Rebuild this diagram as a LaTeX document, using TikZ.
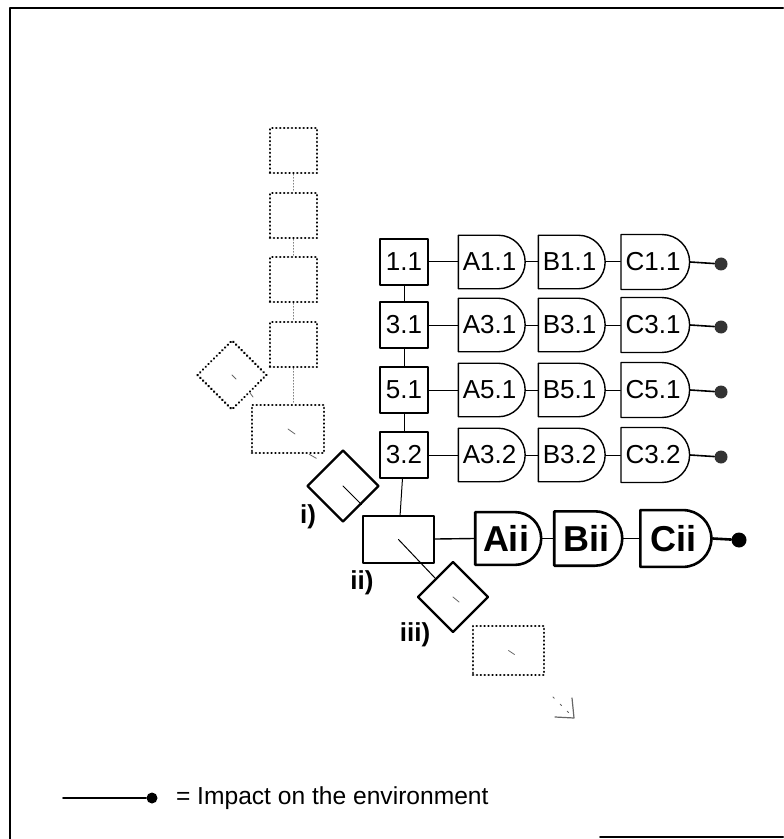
\documentclass[tikz,border=0pt]{standalone}
\usepackage{fontspec}
\setmainfont{Liberation Sans}
\usetikzlibrary{shapes.geometric,shapes.gates.logic.US,arrows.meta}

\begin{document}
\begin{tikzpicture}[
    x=0.5pt, y=-0.5pt,      % one unit = one pixel of the sketch
    font=\fontsize{13}{15}\selectfont,
    line cap=round,
    line join=round,
    >={Straight Barb[open]}, % arrow tip style
    box/.style={draw, line width=0.7pt, inner sep=0pt,
                minimum width=24pt, minimum height=23pt},
    gate/.style={and gate US, draw, line width=0.7pt, inner sep=0pt,
                 minimum height=23pt},
    bigbox/.style={draw, line width=1.2pt, inner sep=0pt,
                   minimum width=35.5pt, minimum height=23.5pt},
    biggate/.style={and gate US, draw, line width=1.3pt, inner sep=0pt,
                    minimum height=23.5pt, font=\fontsize{18}{20}\selectfont\bfseries},
    choice/.style={diamond, draw, line width=1.2pt, inner sep=0pt, aspect=1},
    ghost/.style={draw, line width=1.3pt, dash pattern=on 0.05pt off 1.9pt, inner sep=0pt},
    ghostlink/.style={line width=0.4pt, gray, dash pattern=on 0.5pt off 1pt},
    link/.style={line width=0.5pt},
    impact/.style={circle, fill=black!80, inner sep=0pt, minimum size=6.5pt},
    trace/.style={line width=0.4pt, black!60},
    tag/.style={font=\fontsize{13}{15}\selectfont\bfseries}
]
\useasboundingbox (0,0) rectangle (783,839);

%-----------------------
% 0) FRAME
%-----------------------
\draw[line width=1pt] (783,8) -- (10,8) -- (10,839);
\draw[line width=1pt] (600,837) -- (783,837);

%-----------------------
% 1) DOTTED (PAST) STEPS
%-----------------------
\node[ghost, minimum width=23.5pt, minimum height=22.5pt] (ds1) at (293.5,150.5) {};
\node[ghost, minimum width=23.5pt, minimum height=22.5pt] (ds2) at (293.5,215.5) {};
\node[ghost, minimum width=23.5pt, minimum height=22.5pt] (ds3) at (293.5,279.5) {};
\node[ghost, minimum width=23.5pt, minimum height=22.5pt] (ds4) at (293.5,344.5) {};
\node[ghost, minimum width=36pt, minimum height=24pt] (dr) at (288,429) {};
\node[ghost, diamond, aspect=1, minimum size=35pt] (dd) at (232,375) {};

\draw[ghostlink] (ds1) -- (ds2);
\draw[ghostlink] (ds2) -- (ds3);
\draw[ghostlink] (ds3) -- (ds4);
\draw[ghostlink] (ds4.south) -- (ds4.south |- dr.north);

%-----------------------
% 2) MAIN ROWS
%-----------------------
\foreach \id/\row/\ypos in {r1/1.1/262, r2/3.1/325, r3/5.1/390, r4/3.2/455} {
  \node[box] (s\id) at (404,\ypos) {\row};
  \node[gate, minimum width=28pt] (A\id) at (489.5,\ypos) {A\row};
  \node[gate, minimum width=30pt] (B\id) at (569.5,\ypos) {B\row};
  \node[gate, minimum width=32pt] (C\id) at (653,\ypos) {C\row};
  \node[impact] (e\id) at (721,\ypos+2) {};
  \draw[link] (s\id) -- (A\id.west);
  \draw[link] (A\id.east) -- (B\id.west);
  \draw[link] (B\id.east) -- (C\id.west);
  \draw[line width=0.8pt] (C\id.east) -- (e\id);
}
\draw[link] (sr1) -- (sr2);
\draw[link] (sr2) -- (sr3);
\draw[link] (sr3) -- (sr4);

%-----------------------
% 3) CURRENT STEP ii)
%-----------------------
\node[bigbox] (ii) at (398.5,539.5) {};
\node[biggate, minimum width=33pt] (Aii) at (506,538.5) {Aii};
\node[biggate, minimum width=34pt] (Bii) at (586,538.5) {Bii};
\node[biggate, minimum width=35.5pt] (Cii) at (673.5,538.5) {Cii};
\node[impact, fill=black, minimum size=7.5pt] (eii) at (739,540) {};

\draw[link] (sr4) -- (ii);
\draw[line width=0.7pt] (ii) -- (Aii.west);
\draw[line width=0.7pt] (Aii.east) -- (Bii.west);
\draw[line width=0.7pt] (Bii.east) -- (Cii.west);
\draw[line width=1.3pt] (Cii.east) -- (eii);

%-----------------------
% 4) CHOICES i) AND iii)
%-----------------------
\node[choice, minimum size=36pt] (di) at (343,486) {};
\node[choice, minimum size=35.5pt] (diii) at (453,597) {};
\node[ghost, minimum width=35.5pt, minimum height=24.5pt] (dr3) at (508.5,650.5) {};

\node[tag] (ti) at (308,517) {i)};
\node[tag] (tii) at (362,583) {ii)};
\node[tag] (tiii) at (415,635) {iii)};

%-----------------------
% 5) FAINT TIME TRACE
%-----------------------
\draw[trace] (dd.center) -- ++(4,4);
\draw[trace] (dd.south east) -- ++(3,4);
\draw[trace] (dr.center) -- ++(7,5);
\draw[trace] (dr.south east) ++(-16,0) -- ++(7,4);
\draw[line width=0.5pt] (di.center) -- (di.south east);
\draw[line width=0.5pt] (ii.center) -- (diii);
\draw[trace] (diii.center) -- ++(6,5);
\draw[trace] (dr3.center) -- ++(6,4);
\coordinate (tail) at (553,697);
\coordinate (tip) at (574,718);
\draw[trace, dash pattern=on 1pt off 4pt] (tail) -- (tip);
\draw[trace, line width=0.6pt] (555,717) -- (tip) -- (572,698);

%-----------------------
% 6) LEGEND
%-----------------------
\coordinate (lstart) at (63,798);
\node[impact, fill=black, minimum size=5.5pt] (ldot) at (152,798) {};
\draw[line width=0.8pt] (lstart) -- (ldot);
\node[anchor=west, font=\fontsize{12.3}{14}\selectfont] (ltext) at (169,798) {= Impact on the environment};

\end{tikzpicture}
\end{document}
